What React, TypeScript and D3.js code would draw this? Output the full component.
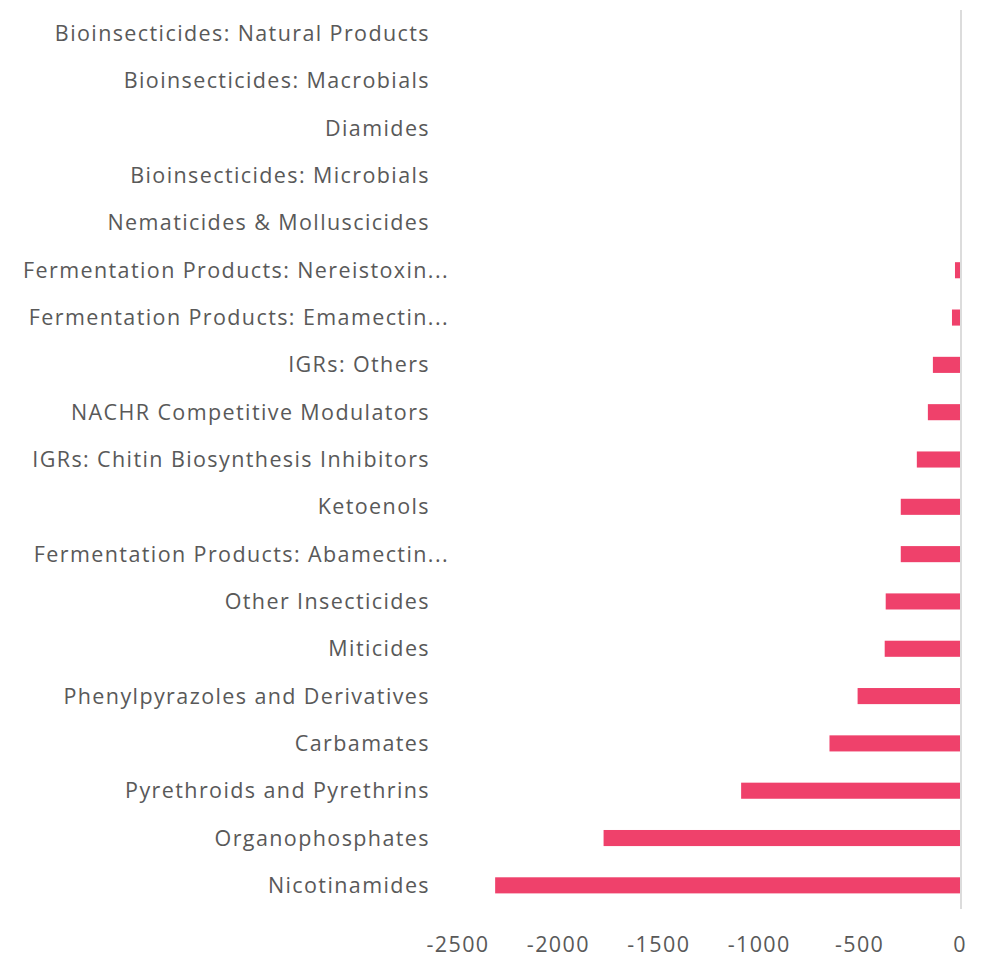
import React from "react";
import * as d3 from "d3";

// Change in insecticide sales by segment (negative = decline)
const categories: string[] = [
  "Bioinsecticides: Natural Products",
  "Bioinsecticides: Macrobials",
  "Diamides",
  "Bioinsecticides: Microbials",
  "Nematicides & Molluscicides",
  "Fermentation Products: Nereistoxin...",
  "Fermentation Products: Emamectin...",
  "IGRs: Others",
  "NACHR Competitive Modulators",
  "IGRs: Chitin Biosynthesis Inhibitors",
  "Ketoenols",
  "Fermentation Products: Abamectin...",
  "Other Insecticides",
  "Miticides",
  "Phenylpyrazoles and Derivatives",
  "Carbamates",
  "Pyrethroids and Pyrethrins",
  "Organophosphates",
  "Nicotinamides",
];

const values: number[] = [
  0, 0, 0, 0, 0, -25, -40, -135, -160, -215, -295, -295, -370, -375, -510,
  -650, -1090, -1775, -2315,
];

const tickValues: number[] = [-2500, -2000, -1500, -1000, -500, 0];

const WIDTH = 984;
const HEIGHT = 969;
const FONT = "'Open Sans', 'Liberation Sans', sans-serif";
const TEXT_COLOR = "#595959";
const BAR_COLOR = "#ef416b";
const FONT_SIZE = 21.5;
const LETTER_SPACING = 1.4;

export default function App() {
  const plotTop = 10;
  const plotBottom = 909;
  const x = d3.scaleLinear().domain([-2500, 0]).range([458, 960]);
  const y = d3
    .scaleBand<string>()
    .domain(categories)
    .range([plotTop, plotBottom])
    .paddingInner(0.66)
    .paddingOuter(0.33);

  return (
    <svg
      width={WIDTH}
      height={HEIGHT}
      style={{ position: "absolute", left: 0, top: 0, background: "#fff" }}
      fontFamily={FONT}
    >
      {/* bars */}
      {categories.map((c, i) => {
        const v = values[i];
        if (v === 0) return null;
        return (
          <rect
            key={c}
            x={x(v)}
            y={y(c)!}
            width={x(0) - x(v)}
            height={y.bandwidth()}
            fill={BAR_COLOR}
          />
        );
      })}

      {/* zero axis line */}
      <line
        x1={x(0) + 1}
        x2={x(0) + 1}
        y1={plotTop}
        y2={plotBottom}
        stroke="#d0d0d0"
        strokeWidth={1.5}
      />

      {/* category labels */}
      {categories.map((c) => {
        const truncated = c.endsWith("...");
        return (
          <text
            key={c}
            x={truncated ? 449 : 430}
            y={y(c)! + y.bandwidth() / 2}
            dy="0.35em"
            textAnchor="end"
            fontSize={FONT_SIZE}
            letterSpacing={LETTER_SPACING}
            fill={TEXT_COLOR}
          >
            {c}
          </text>
        );
      })}

      {/* value axis tick labels */}
      {tickValues.map((t) => (
        <text
          key={t}
          x={x(t)}
          y={plotBottom + 35}
          dy="0.35em"
          textAnchor="middle"
          fontSize={FONT_SIZE}
          letterSpacing={LETTER_SPACING}
          fill={TEXT_COLOR}
        >
          {t}
        </text>
      ))}
    </svg>
  );
}
